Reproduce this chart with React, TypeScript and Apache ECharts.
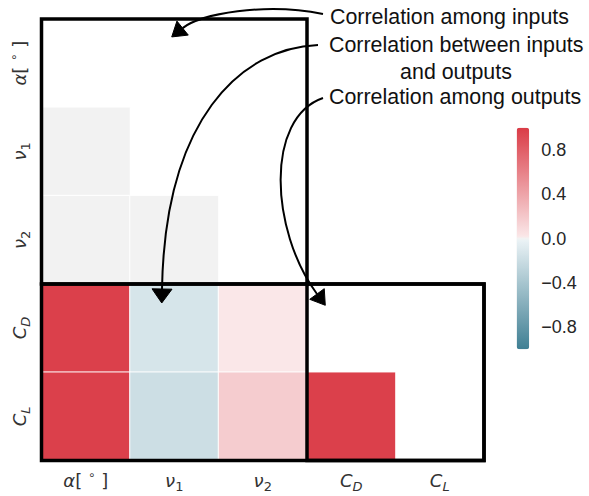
import React, { useEffect, useRef } from 'react';
import * as echarts from 'echarts';

// Variables of the study: inputs first, then outputs
const variables = ['alpha', 'nu1', 'nu2', 'CD', 'CL'];

// Lower-triangle correlation coefficients, one array per row (columns left to right)
const corrNu1 = [0.0];
const corrNu2 = [0.0, 0.0];
const corrCD = [0.97, -0.13, 0.02];
const corrCL = [0.97, -0.19, 0.17, 0.97];
const corrRows = [[], corrNu1, corrNu2, corrCD, corrCL];

// Colour-bar tick labels
const colorbarTicks = [-0.8, -0.4, 0, 0.4, 0.8];

// Framed blocks, as [firstCol, firstRow, lastCol, lastRow] category indices
const blockInputs = [0, 0, 2, 2];
const blockInOut = [0, 3, 4, 4];
const blockOutputs = [3, 3, 4, 4];

// Diverging colormap anchors: dark end, light end of each half, neutral centre
const negDark = [63, 127, 147];
const negLight = [237, 244, 247];
const centre = [242, 242, 242];
const posLight = [251, 234, 235];
const posDark = [218, 59, 70];

function mix(a: number[], b: number[], t: number) {
  const c = a.map((v, i) => Math.round(v + (b[i] - v) * t));
  return `rgb(${c[0]},${c[1]},${c[2]})`;
}

// Sampled colour ramp from -1 to 1 (evenly spaced stops for visualMap)
function buildRamp(steps: number) {
  const out: string[] = [];
  for (let k = 0; k <= steps; k++) {
    const v = -1 + (2 * k) / steps;
    if (Math.abs(v) < 1e-9) out.push(mix(centre, centre, 0));
    else if (v < 0) out.push(mix(negLight, negDark, -v));
    else out.push(mix(posLight, posDark, v));
  }
  return out;
}

// Rich-text math labels for each variable
const mathLabels: Record<string, string> = {
  alpha: '{m|α}{n|[ }{sup|∘}{n| ]}',
  nu1: '{m|ν}{sub|1}',
  nu2: '{m|ν}{sub|2}',
  CD: '{m|C}{subi|D}',
  CL: '{m|C}{subi|L}',
};

const labelColor = '#333333';
const mathRich = {
  m: { fontFamily: 'DejaVu Sans', fontStyle: 'italic', fontSize: 18, lineHeight: 24, color: labelColor },
  n: { fontFamily: 'DejaVu Sans', fontSize: 18, lineHeight: 24, color: labelColor },
  sub: { fontFamily: 'DejaVu Sans', fontSize: 13, lineHeight: 14, verticalAlign: 'bottom', color: labelColor },
  subi: { fontFamily: 'DejaVu Sans', fontStyle: 'italic', fontSize: 13, lineHeight: 14, verticalAlign: 'bottom', color: labelColor },
  sup: { fontFamily: 'DejaVu Sans', fontSize: 12, lineHeight: 14, verticalAlign: 'top', color: labelColor },
};

type Pt = [number, number];

// Curved annotation arrow: cubic bezier plus a filled triangular head
function arrow(p0: Pt, c1: Pt, c2: Pt, p3: Pt, headLen = 14, headHalf = 9) {
  const dx = p3[0] - c2[0];
  const dy = p3[1] - c2[1];
  const len = Math.hypot(dx, dy) || 1;
  const ux = dx / len;
  const uy = dy / len;
  const tip: Pt = [p3[0] + ux * headLen, p3[1] + uy * headLen];
  const left: Pt = [p3[0] - uy * headHalf, p3[1] + ux * headHalf];
  const right: Pt = [p3[0] + uy * headHalf, p3[1] - ux * headHalf];
  return [
    {
      type: 'bezierCurve',
      shape: { x1: p0[0], y1: p0[1], cpx1: c1[0], cpy1: c1[1], cpx2: c2[0], cpy2: c2[1], x2: p3[0], y2: p3[1] },
      style: { stroke: '#000', lineWidth: 2, fill: null },
      z: 100,
    },
    {
      type: 'polygon',
      shape: { points: [tip, left, right] },
      style: { fill: '#000', stroke: '#000', lineWidth: 1 },
      z: 100,
    },
  ];
}

export default function App() {
  const ref = useRef<HTMLDivElement>(null);

  useEffect(() => {
    if (!ref.current) return;
    const chart = echarts.init(ref.current, undefined, { renderer: 'svg' });

    const cells: number[][] = [];
    corrRows.forEach((row, i) => row.forEach((v, j) => cells.push([j, i, v])));

    const annoStyle = {
      fontFamily: 'Liberation Sans',
      fontSize: 21.4,
      fill: '#111',
      verticalAlign: 'middle',
    };
    const annoText = (text: string, x: number, y: number, align: string) => ({
      type: 'text',
      x,
      y,
      z: 100,
      style: { text, align, ...annoStyle },
    });

    chart.setOption({
      animation: false,
      backgroundColor: '#ffffff',
      grid: [
        { left: 41.5, top: 19, width: 442.5, height: 441.5 },
        { left: 516.7, top: 127.7, width: 12.5, height: 221.6 },
      ],
      xAxis: [
        {
          type: 'category',
          gridIndex: 0,
          data: variables,
          position: 'bottom',
          axisLine: { show: false },
          axisTick: { show: false },
          splitLine: { show: false },
          axisLabel: { interval: 0, margin: 8, formatter: (v: string) => mathLabels[v], rich: mathRich },
        },
        { type: 'value', gridIndex: 1, show: false, min: 0, max: 1 },
      ],
      yAxis: [
        {
          type: 'category',
          gridIndex: 0,
          data: variables,
          inverse: true,
          axisLine: { show: false },
          axisTick: { show: false },
          splitLine: { show: false },
          axisLabel: {
            interval: 0,
            margin: 10,
            rotate: 90,
            formatter: (v: string) => mathLabels[v],
            rich: mathRich,
          },
        },
        {
          type: 'value',
          gridIndex: 1,
          min: -1,
          max: 1,
          position: 'right',
          axisLine: { show: false },
          axisTick: { show: false },
          splitLine: { show: false },
          axisLabel: {
            margin: 12,
            customValues: colorbarTicks,
            fontFamily: 'Liberation Sans',
            fontSize: 18,
            color: '#262626',
            formatter: (v: number) => v.toFixed(1).replace('-', '\u2212'),
          },
        },
      ],
      visualMap: {
        type: 'continuous',
        seriesIndex: 0,
        min: -1,
        max: 1,
        calculable: false,
        hoverLink: false,
        orient: 'vertical',
        left: 516.7,
        top: 127.7,
        itemWidth: 12.5,
        itemHeight: 221.6,
        padding: 0,
        inRange: { color: buildRamp(200) },
      },
      series: [
        {
          type: 'heatmap',
          xAxisIndex: 0,
          yAxisIndex: 0,
          data: cells,
          itemStyle: { borderColor: '#ffffff', borderWidth: 1 },
          emphasis: { disabled: true },
        },
        {
          type: 'custom',
          xAxisIndex: 0,
          yAxisIndex: 0,
          clip: false,
          z: 10,
          data: [blockInputs, blockInOut, blockOutputs],
          renderItem: (_params: any, api: any) => {
            const a = api.coord([api.value(0), api.value(1)]);
            const b = api.coord([api.value(2), api.value(3)]);
            const s = api.size([1, 1]);
            const x0 = Math.min(a[0], b[0]) - s[0] / 2;
            const y0 = Math.min(a[1], b[1]) - s[1] / 2;
            const x1 = Math.max(a[0], b[0]) + s[0] / 2;
            const y1 = Math.max(a[1], b[1]) + s[1] / 2;
            return {
              type: 'rect',
              shape: { x: x0, y: y0, width: x1 - x0, height: y1 - y0 },
              style: { fill: 'none', stroke: '#000', lineWidth: 3.5 },
            };
          },
        },
      ],
      graphic: [
        annoText('Correlation among inputs', 330, 17, 'left'),
        annoText('Correlation between inputs', 329, 45, 'left'),
        annoText('and outputs', 456, 72, 'center'),
        annoText('Correlation among outputs', 329, 97, 'left'),
        ...arrow([323, 14], [265, 2], [200, 14], [182.6, 28.1]),
        ...arrow([318, 45], [240, 48], [165, 120], [162, 289], 14, 10),
        ...arrow([323, 98], [265, 118], [270, 230], [317, 294]),
      ],
    });

    return () => chart.dispose();
  }, []);

  return (
    <div
      ref={ref}
      style={{ position: 'fixed', left: 0, top: 0, width: 589, height: 496, background: '#fff' }}
    />
  );
}
